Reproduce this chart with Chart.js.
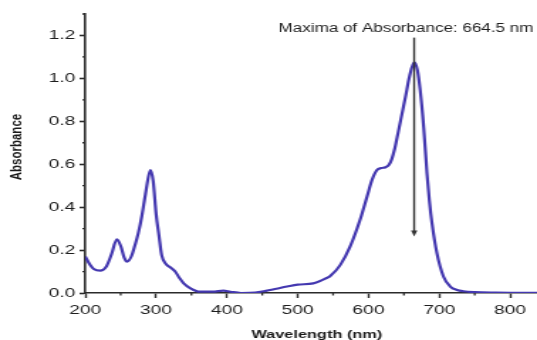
<!DOCTYPE html>
<html>
<head>
<meta charset="utf-8">
<title>UV-Vis absorption spectrum</title>
<script src="https://cdn.jsdelivr.net/npm/chart.js@4/dist/chart.umd.min.js"></script>
<style>
  html, body { margin: 0; padding: 0; background: #ffffff; overflow: hidden; }
  canvas { display: block; }
</style>
</head>
<body>
<!-- The plot is drawn on a narrower canvas and widened to 537px, as in the published figure -->
<canvas id="spectrum" width="378" height="340" style="width:537px;height:340px"></canvas>
<script>
// Measured spectrum: wavelength (nm) and absorbance
const wavelengths = [
  200, 207, 212, 221, 230, 237, 244.7, 250, 255, 259, 265, 270, 275, 280, 285, 292, 296, 300,
  304, 308, 314, 320, 327, 333, 339, 348, 362, 380, 395, 405, 420, 440, 455, 470, 485, 500,
  522, 541, 546, 560, 574, 588, 598, 605, 612, 618, 624, 629, 633, 637, 642, 647, 652, 658, 664.5,
  669, 673, 678, 682.6, 686, 689.7, 696.7, 706, 715.5, 725, 734, 750, 780, 820, 838
];
const absorbance = [
  0.170, 0.130, 0.112, 0.104, 0.125, 0.180, 0.250, 0.220, 0.165, 0.146, 0.170, 0.220, 0.280, 0.360, 0.460, 0.573, 0.520, 0.370,
  0.270, 0.175, 0.135, 0.120, 0.100, 0.070, 0.045, 0.023, 0.006, 0.006, 0.011, 0.006, 0.000, 0.002, 0.010, 0.020, 0.030, 0.039,
  0.045, 0.070, 0.079, 0.130, 0.216, 0.340, 0.450, 0.527, 0.573, 0.582, 0.586, 0.598, 0.625, 0.672, 0.750, 0.830, 0.910, 1.010, 1.075,
  1.040, 0.946, 0.770, 0.558, 0.430, 0.325, 0.185, 0.076, 0.030, 0.014, 0.008, 0.004, 0.002, 0.001, 0.001
];

// Axis ticks
const xTicks = [200, 300, 400, 500, 600, 700, 800];
const xMinorTicks = [250, 350, 450, 550, 650, 750];
const yTicks = [0, 0.2, 0.4, 0.6, 0.8, 1.0, 1.2];
const yTickLabels = ['0.0', '0.2', '0.4', '0.6', '0.8', '1.0', '1.2'];
const yMinorTicks = [0.1, 0.3, 0.5, 0.7, 0.9, 1.1, 1.3];

// Peak annotation
const peakWavelength = 664.5;
const peakText = 'Maxima of Absorbance: ' + peakWavelength + ' nm';

const FONT = '"Liberation Sans", Arial, Helvetica, sans-serif';
const AXIS_COLOR = '#2b2b2b';
const LINE_COLOR = '#4438b0';

// Minor ticks, the peak arrow with its label, and the axis titles
const decorations = {
  id: 'decorations',
  afterDatasetsDraw(chart) {
    const { ctx, scales: { x, y } } = chart;
    ctx.save();

    ctx.strokeStyle = AXIS_COLOR;
    ctx.lineWidth = 1.3;
    xMinorTicks.forEach(v => {
      const px = x.getPixelForValue(v);
      ctx.beginPath();
      ctx.moveTo(px, y.bottom);
      ctx.lineTo(px, y.bottom + 2.5);
      ctx.stroke();
    });
    yMinorTicks.forEach(v => {
      const py = y.getPixelForValue(v);
      ctx.beginPath();
      ctx.moveTo(x.left, py);
      ctx.lineTo(x.left - 2, py);
      ctx.stroke();
    });

    // vertical arrow through the absorption maximum
    const ax = x.getPixelForValue(peakWavelength);
    const yTop = y.getPixelForValue(1.19);
    const yTip = y.getPixelForValue(0.263);
    const head = 6;
    ctx.strokeStyle = '#333333';
    ctx.fillStyle = '#333333';
    ctx.lineWidth = 1.4;
    ctx.beginPath();
    ctx.moveTo(ax, yTop);
    ctx.lineTo(ax, yTip - head + 1);
    ctx.stroke();
    ctx.beginPath();
    ctx.moveTo(ax, yTip);
    ctx.lineTo(ax - 2.2, yTip - head);
    ctx.lineTo(ax + 2.2, yTip - head);
    ctx.closePath();
    ctx.fill();

    ctx.fillStyle = '#1e1e1e';
    ctx.font = '12px ' + FONT;
    ctx.textAlign = 'center';
    ctx.textBaseline = 'middle';
    ctx.fillText(peakText, x.getPixelForValue(653), y.getPixelForValue(1.231));

    // axis titles
    ctx.font = 'bold 11.5px ' + FONT;
    ctx.fillStyle = '#1a1a1a';
    ctx.fillText('Wavelength (nm)', x.getPixelForValue(527), chart.height - 5.5);
    ctx.translate(12, y.getPixelForValue(0.68));
    ctx.rotate(-Math.PI / 2);
    ctx.fillText('Absorbance', 0, 0);

    ctx.restore();
  }
};

new Chart(document.getElementById('spectrum'), {
  type: 'line',
  data: {
    datasets: [{
      label: 'Absorbance',
      data: wavelengths.map((w, i) => ({ x: w, y: absorbance[i] })),
      borderColor: LINE_COLOR,
      borderWidth: 2.2,
      pointRadius: 0,
      fill: false,
      cubicInterpolationMode: 'monotone'
    }]
  },
  options: {
    responsive: false,
    animation: false,
    devicePixelRatio: 1,
    layout: { padding: { top: 14, right: 0, bottom: 0, left: 0 } },
    plugins: { legend: { display: false }, tooltip: { enabled: false } },
    scales: {
      x: {
        type: 'linear',
        min: 200,
        max: 838,
        afterBuildTicks: s => { s.ticks = xTicks.map(v => ({ value: v })); },
        afterFit: s => { s.height = 47; },
        border: { display: true, color: AXIS_COLOR, width: 1.6 },
        grid: { drawOnChartArea: false, drawTicks: true, tickLength: 5, tickColor: AXIS_COLOR, tickWidth: 1.4 },
        ticks: {
          padding: 4,
          maxRotation: 0,
          color: '#1e1e1e',
          font: { family: FONT, size: 13.5 },
          callback: v => String(v)
        }
      },
      y: {
        type: 'linear',
        min: 0,
        max: 1.3,
        afterBuildTicks: s => { s.ticks = yTicks.map(v => ({ value: v })); },
        afterFit: s => { s.width = 60; },
        border: { display: true, color: AXIS_COLOR, width: 1.6 },
        grid: { drawOnChartArea: false, drawTicks: true, tickLength: 4, tickColor: AXIS_COLOR, tickWidth: 1.6 },
        ticks: {
          padding: 3,
          color: '#1e1e1e',
          font: { family: FONT, size: 13.5 },
          callback: v => yTickLabels[yTicks.findIndex(t => Math.abs(t - v) < 1e-9)]
        }
      }
    }
  },
  plugins: [decorations]
});
</script>
</body>
</html>
